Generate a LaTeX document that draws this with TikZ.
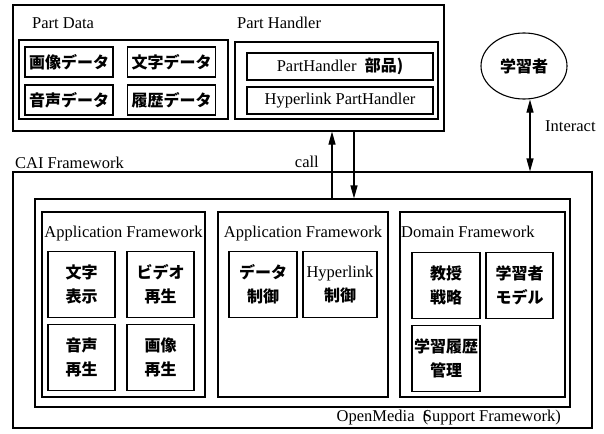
\documentclass[tikz,border=0pt]{standalone}
\usepackage{fontspec}
\setmainfont{Liberation Serif}
\newfontfamily\jpfont{Noto Sans CJK JP}
\usetikzlibrary{arrows.meta,shapes.geometric}
\begin{document}
\begin{tikzpicture}[x=1pt,y=-1pt,
  box/.style n args={2}{draw, line width=1.1pt, inner sep=0pt, minimum width=#1, minimum height=#2},
  cell/.style n args={2}{box={#1}{#2}, align=center, font=\fontsize{16}{24}\selectfont\jpfont\bfseries},
  lcell/.style n args={2}{box={#1}{#2}, font=\fontsize{16.5}{20}\selectfont},
  lab/.style={inner sep=0pt, font=\fontsize{16.5}{20}\selectfont},
  arr/.style={line width=1.1pt, -{Triangle[length=13pt,width=7pt]}},
  darr/.style={line width=1.1pt, {Triangle[length=13pt,width=7pt]}-{Triangle[length=13pt,width=7pt]}}
]
\useasboundingbox (0,0) rectangle (604,433);

% ---------- upper block ----------
\node[box={431pt}{126pt}] (upper) at (228.5,68) {};
\node[lab, anchor=base west] (pdlab) at (32,29) {Part Data};
\node[lab, anchor=base west] (phlab) at (237,29) {Part Handler};

\node[box={209pt}{79pt}] (pd) at (123.5,79.5) {};
\node[cell={88pt}{30pt}] (gazo) at (69,62) {画像データ};
\node[cell={88pt}{30pt}] (moji) at (171.5,62) {文字データ};
\node[cell={88pt}{30pt}] (onsei) at (69,100) {音声データ};
\node[cell={88pt}{30pt}] (rireki) at (171.5,100) {履歴データ};

\node[box={203pt}{77pt}] (ph) at (336.5,80.5) {};
\node[lcell={186pt}{27pt}] (phb) at (340,66.5) {PartHandler\ \ {\fontsize{16}{20}\selectfont\jpfont\bfseries 部品)}};
\node[lcell={186pt}{27pt}] (hph) at (340,100.5) {Hyperlink PartHandler};

% ---------- learner ----------
\node[draw, line width=1.1pt, ellipse, minimum width=86pt, minimum height=66pt, inner sep=0pt,
      font=\fontsize{16}{20}\selectfont\jpfont\bfseries] (learner) at (524,66) {学習者};

% ---------- CAI framework ----------
\node[lab, anchor=base west] (cailab) at (15,168) {CAI Framework};
\node[box={579pt}{256pt}] (cai) at (302.5,300) {};
\node[box={535pt}{208pt}] (om) at (302.5,303) {};
\node[lab, anchor=base east] (omlab) at (561,421) {OpenMedia\ \ \rlap{(}Support Framework)};

\node[box={163pt}{185pt}] (af1) at (123.5,304.5) {};
\node[lab, anchor=base] (af1lab) at (123.5,237) {Application Framework};
\node[cell={67pt}{66pt}] (mojih) at (81.5,284.5) {文字\\表示};
\node[cell={67pt}{66pt}] (video) at (160.5,284.5) {ビデオ\\再生};
\node[cell={67pt}{66pt}] (onseis) at (81.5,357.5) {音声\\再生};
\node[cell={67pt}{66pt}] (gazos) at (160.5,357.5) {画像\\再生};

\node[box={170pt}{185pt}] (af2) at (303,304.5) {};
\node[lab, anchor=base] (af2lab) at (303,237) {Application Framework};
\node[cell={68pt}{66pt}] (data) at (263,284.5) {データ\\制御};
\node[cell={74pt}{66pt}] (hyper) at (340,284.5) {{\rmfamily\mdseries\fontsize{16.5}{24}\selectfont Hyperlink}\\制御};

\node[box={165pt}{185pt}] (df) at (482.5,304.5) {};
\node[lab, anchor=base west] (dflab) at (401,237) {Domain Framework};
\node[cell={68pt}{66pt}] (kyoju) at (446,285.5) {教授\\戦略};
\node[cell={67pt}{66pt}] (model) at (519.5,285.5) {学習者\\モデル};
\node[cell={68pt}{66pt}] (rirekik) at (446,358.5) {学習履歴\\管理};

% ---------- connectors ----------
\coordinate (ca) at (332,0);
\coordinate (cb) at (354,0);
\coordinate (ia) at (530,0);
\draw[arr] (om.north -| ca) -- (upper.south -| ca);
\draw[arr] (upper.south -| cb) -- (om.north -| cb);
\node[lab, anchor=base east] (calllab) at (319,167) {call};
\draw[darr] (learner.south -| ia) -- (cai.north -| ia);
\node[lab, anchor=base west] (intlab) at (545,131) {Interact};
\end{tikzpicture}
\end{document}
